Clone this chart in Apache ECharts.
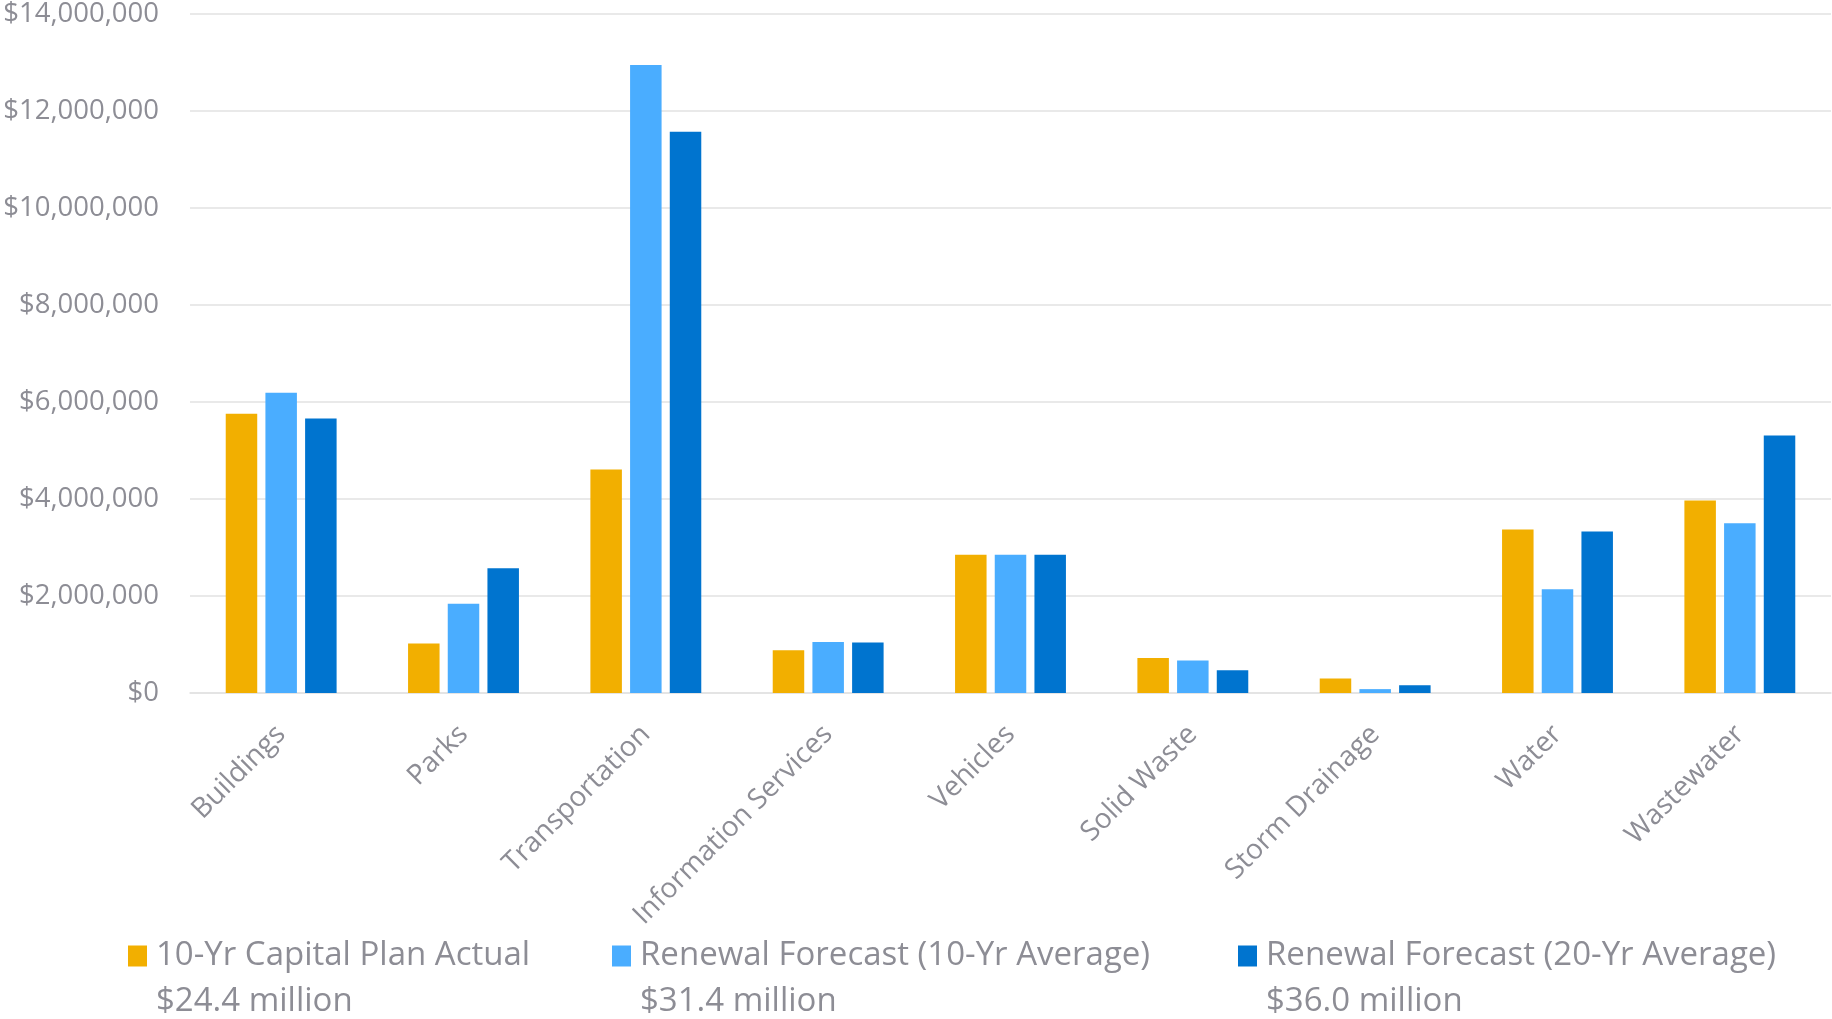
<!DOCTYPE html>
<html>
<head>
<meta charset="utf-8">
<script src="https://cdn.jsdelivr.net/npm/echarts@6/dist/echarts.min.js"></script>
<style>
html,body{margin:0;padding:0;background:#fff;}
#chart{width:1832px;height:1019px;}
</style>
</head>
<body>
<div id="chart"></div>
<script>
const categories = ['Buildings','Parks','Transportation','Information Services','Vehicles','Solid Waste','Storm Drainage','Water','Wastewater'];
const seriesNames = ['10-Yr Capital Plan Actual','Renewal Forecast (10-Yr Average)','Renewal Forecast (20-Yr Average)'];
const seriesTotals = ['$24.4 million','$31.4 million','$36.0 million'];
const capitalPlanActual = [5760000, 1020000, 4610000, 880000, 2850000, 720000, 300000, 3370000, 3970000];
const renewal10 = [6190000, 1840000, 12950000, 1050000, 2850000, 670000, 80000, 2140000, 3500000];
const renewal20 = [5660000, 2570000, 11570000, 1040000, 2850000, 470000, 160000, 3330000, 5310000];
const yTicks = { min: 0, max: 14000000, interval: 2000000 };

const colors = ['#F2AF00', '#4AADFF', '#0074CF'];
const textGray = '#8D8D95';
const FONT = 'Open Sans';

const chart = echarts.init(document.getElementById('chart'));
const values = [capitalPlanActual, renewal10, renewal20];
const legendWidths = [456, 598, 560];

chart.setOption({
  animation: false,
  textStyle: { fontFamily: FONT },
  grid: { left: 190, right: 1, top: 13, bottom: 326 },
  legend: {
    left: 128,
    top: 887,
    padding: 0,
    itemGap: 0,
    itemWidth: 19,
    itemHeight: 21,
    icon: 'rect',
    data: seriesNames.map((n, i) => ({
      name: n,
      textStyle: { width: legendWidths[i] }
    })),
    formatter: function (name) {
      const i = seriesNames.indexOf(name);
      return ' \n' + name + '\n' + seriesTotals[i];
    },
    textStyle: {
      color: textGray,
      fontFamily: FONT,
      fontSize: 33,
      lineHeight: 46,
      padding: [0, 0, 0, 4]
    }
  },
  xAxis: {
    type: 'category',
    data: categories,
    axisLine: { show: true, lineStyle: { color: '#E2E2E2', width: 1.5 } },
    axisTick: { show: false },
    axisLabel: {
      rotate: 45,
      interval: 0,
      margin: 37,
      color: textGray,
      fontFamily: FONT,
      fontSize: 28
    }
  },
  yAxis: {
    type: 'value',
    min: yTicks.min,
    max: yTicks.max,
    interval: yTicks.interval,
    axisLine: { show: false },
    axisTick: { show: false },
    splitLine: { lineStyle: { color: '#E2E2E2', width: 1.5 } },
    axisLabel: {
      margin: 31,
      color: textGray,
      fontFamily: FONT,
      fontSize: 27.5,
      formatter: v => '$' + v.toLocaleString('en-US')
    }
  },
  series: seriesNames.map((n, i) => ({
    name: n,
    type: 'bar',
    data: values[i],
    barWidth: 31.5,
    barGap: '26%',
    itemStyle: { color: colors[i] }
  }))
});
</script>
</body>
</html>
